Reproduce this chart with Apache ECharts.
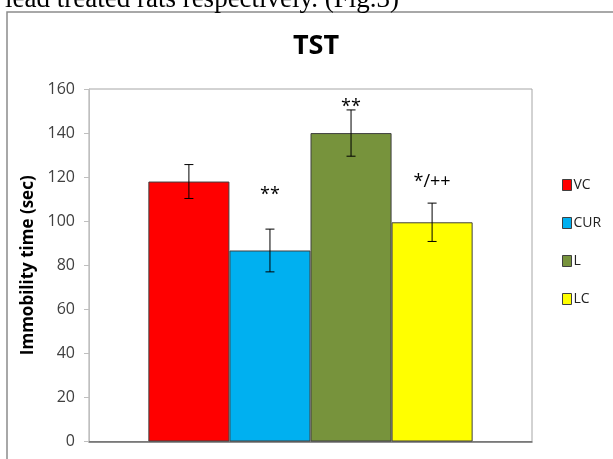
<!DOCTYPE html>
<html>
<head>
<meta charset="utf-8">
<script src="https://cdn.jsdelivr.net/npm/echarts@6/dist/echarts.min.js"></script>
<style>html,body{margin:0;padding:0;background:#fff}#c{width:613px;height:459px}</style>
</head>
<body>
<div id="c"></div>
<script>
var categories = ['TST'];
var seriesNames = ['VC', 'CUR', 'L', 'LC'];
var means = [118, 86.7, 140, 99.5];
var errors = [7.7, 9.7, 10.5, 8.7];
var annotations = ['', '**', '**', '*/++'];
var annotationValues = [null, 112, 152, 118];
var yTicks = [0, 20, 40, 60, 80, 100, 120, 140, 160];
var colors = ['#ff0000', '#00b0f0', '#77933c', '#ffff00'];

var BAR_FRAC = 0.183;

var chart = echarts.init(document.getElementById('c'), null, {renderer: 'canvas'});

var barSeries = seriesNames.map(function (name, i) {
  return {
    name: name,
    type: 'bar',
    data: [means[i]],
    barWidth: (BAR_FRAC * 100) + '%',
    barGap: '0%',
    itemStyle: {color: colors[i], borderColor: '#404040', borderWidth: 1},
    emphasis: {disabled: true},
    z: 2
  };
});

var errData = seriesNames.map(function (name, i) {
  return [0, means[i] - errors[i], means[i] + errors[i], i];
});

var errSeries = {
  type: 'custom',
  data: errData,
  z: 5,
  silent: true,
  renderItem: function (params, api) {
    var idx = api.value(3);
    var band = api.size([1, 0])[0];
    var off = (idx - 1.5) * band * BAR_FRAC;
    var lo = api.coord([api.value(0), api.value(1)]);
    var hi = api.coord([api.value(0), api.value(2)]);
    var x = lo[0] + off;
    var cap = 4.5;
    var st = {stroke: '#000', lineWidth: 1};
    var children = [
      {type: 'line', shape: {x1: x, y1: lo[1], x2: x, y2: hi[1]}, style: st},
      {type: 'line', shape: {x1: x - cap, y1: lo[1], x2: x + cap, y2: lo[1]}, style: st},
      {type: 'line', shape: {x1: x - cap, y1: hi[1], x2: x + cap, y2: hi[1]}, style: st}
    ];
    var ann = annotations[idx];
    if (ann) {
      var p = api.coord([api.value(0), annotationValues[idx]]);
      children.push({
        type: 'text',
        x: x, y: p[1],
        style: {text: ann, fill: '#000', font: '18px "Open Sans"', align: 'center', verticalAlign: 'middle'}
      });
    }
    return {type: 'group', children: children};
  }
};

var option = {
  animation: false,
  backgroundColor: '#fff',
  title: {
    text: 'TST',
    left: 311, top: 28,
    textAlign: 'center',
    textStyle: {fontFamily: 'Open Sans', fontWeight: 'bold', fontSize: 27, color: '#000'}
  },
  grid: {left: 89, right: 81, top: 89, bottom: 17.5, show: true, borderColor: '#a6a6a6', borderWidth: 1, backgroundColor: 'transparent'},
  legend: {
    orient: 'vertical',
    left: 557, top: 173,
    itemWidth: 9, itemHeight: 11, itemGap: 24,
    icon: 'rect',
    data: seriesNames,
    textStyle: {fontFamily: 'Open Sans', fontSize: 14, color: '#222', padding: [0, 0, 0, -3]},
    itemStyle: {borderColor: '#404040', borderWidth: 1}
  },
  xAxis: {
    type: 'category',
    data: categories,
    axisLine: {show: true, lineStyle: {color: '#6b6b6b', width: 1.5}},
    axisTick: {show: false},
    axisLabel: {show: false},
    splitLine: {show: false}
  },
  yAxis: {
    type: 'value',
    min: yTicks[0], max: yTicks[yTicks.length - 1], interval: yTicks[1] - yTicks[0],
    name: 'Immobility time (sec)',
    nameLocation: 'middle',
    nameGap: 46,
    nameTextStyle: {fontFamily: 'Open Sans', fontWeight: 'bold', fontSize: 17, color: '#000'},
    axisLine: {show: true, lineStyle: {color: '#bfbfbf', width: 1}},
    axisTick: {show: true, length: 5, lineStyle: {color: '#bfbfbf'}},
    axisLabel: {fontFamily: 'Open Sans', fontSize: 16, color: '#404040', margin: 14},
    splitLine: {show: false}
  },
  graphic: [
    {type: 'text', left: 5, top: -14, style: {text: 'lead treated rats respectively. (Fig.3)', font: '27px "Liberation Serif"', fill: '#000'}, z: 10},
    {type: 'rect', shape: {x: 7, y: 12, width: 700, height: 600}, style: {fill: 'none', stroke: '#8c8c8c', lineWidth: 1.5}, z: 0}
  ],
  series: barSeries.concat([errSeries])
};
chart.setOption(option);
</script>
</body>
</html>
